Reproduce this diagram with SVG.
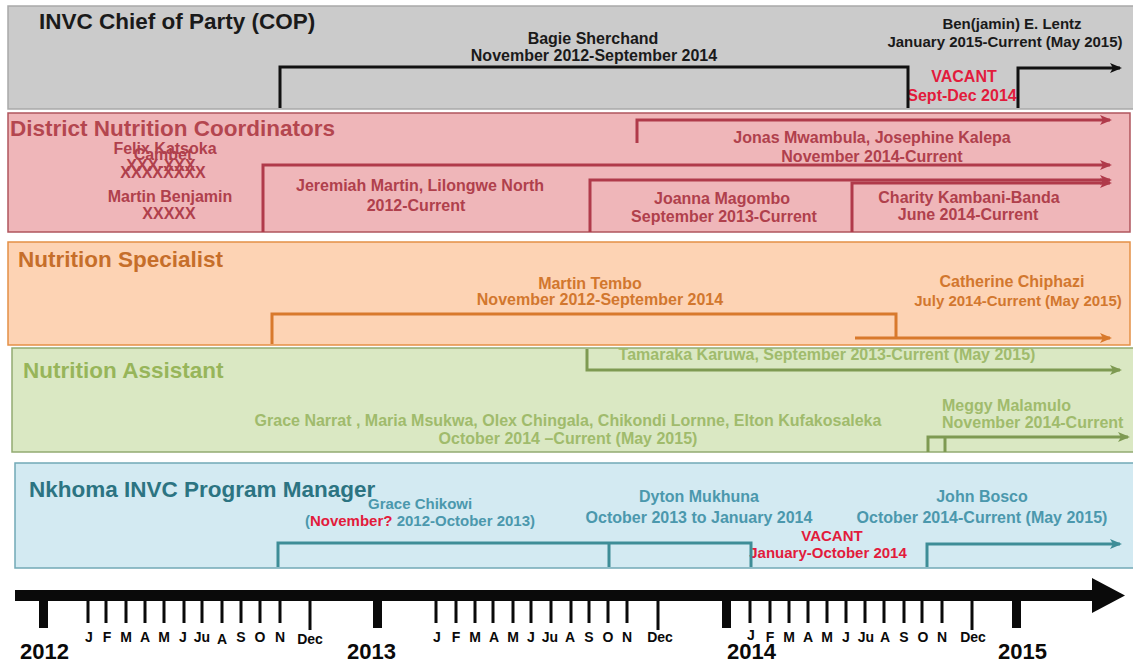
<svg xmlns="http://www.w3.org/2000/svg" width="1133" height="664" viewBox="0 0 1133 664">
  <defs>
    <style>
      text { font-family: "Liberation Sans", Arial, sans-serif; font-weight: bold; }
      .title { font-size: 22.5px; }
      .lbl { font-size: 16px; text-anchor: middle; }
      .sm { font-size: 15px; }
      .st { text-anchor: start; }
      .red { fill: #e21b3c; }
      .tl { font-family: Lato, "Liberation Sans", sans-serif; font-weight: 900; }
      .mon { font-size: 14px; text-anchor: middle; }
      .yr { font-size: 22px; }
      .ln { fill: none; stroke-width: 3; stroke-linejoin: miter; }
    </style>
    <marker id="ah-black" viewBox="0 0 12 10" refX="10" refY="5" markerWidth="12" markerHeight="10" markerUnits="userSpaceOnUse" orient="auto">
      <path d="M0,0 L12,5 L0,10 L3,5 z" fill="#111"/>
    </marker>
    <marker id="ah-red" viewBox="0 0 12 10" refX="10" refY="5" markerWidth="12" markerHeight="10" markerUnits="userSpaceOnUse" orient="auto">
      <path d="M0,0 L12,5 L0,10 L3,5 z" fill="#b03a4a"/>
    </marker>
    <marker id="ah-orange" viewBox="0 0 12 10" refX="10" refY="5" markerWidth="12" markerHeight="10" markerUnits="userSpaceOnUse" orient="auto">
      <path d="M0,0 L12,5 L0,10 L3,5 z" fill="#d8792c"/>
    </marker>
    <marker id="ah-green" viewBox="0 0 12 10" refX="10" refY="5" markerWidth="12" markerHeight="10" markerUnits="userSpaceOnUse" orient="auto">
      <path d="M0,0 L12,5 L0,10 L3,5 z" fill="#7e9a52"/>
    </marker>
    <marker id="ah-teal" viewBox="0 0 12 10" refX="10" refY="5" markerWidth="12" markerHeight="10" markerUnits="userSpaceOnUse" orient="auto">
      <path d="M0,0 L12,5 L0,10 L3,5 z" fill="#3e8d97"/>
    </marker>
  </defs>

  <rect width="1133" height="664" fill="#ffffff"/>

  <!-- Row: INVC Chief of Party -->
  <g id="cop">
    <rect x="8" y="6" width="1130" height="103" fill="#cbcbcb" stroke="#a9a9a9" stroke-width="1.5"/>
    <text class="title" x="39" y="29" font-size="23.5" fill="#1a1a1a">INVC Chief of Party (COP)</text>
    <text class="lbl" x="593" y="44" fill="#1a1a1a">Bagie Sherchand</text>
    <text class="lbl" x="594" y="61" fill="#1a1a1a">November 2012-September 2014</text>
    <text class="lbl sm" x="1012" y="29" fill="#1a1a1a">Ben(jamin) E. Lentz</text>
    <text class="lbl sm" x="1005" y="47" fill="#1a1a1a">January 2015-Current (May 2015)</text>
    <text class="lbl red" x="964" y="82">VACANT</text>
    <text class="lbl red" x="962" y="101">Sept-Dec 2014</text>
  </g>

  <!-- Row: District Nutrition Coordinators -->
  <g id="dnc">
    <rect x="8" y="113" width="1122" height="119" fill="#efb6b9" stroke="#b0555d" stroke-width="1.5"/>
    <text class="title" x="10" y="136" fill="#b4464f">District Nutrition Coordinators</text>
    <g fill="#b0404c">
      <text class="lbl" x="165" y="154">Felix Katsoka</text>
      <text class="lbl" x="163" y="160">Cambet</text>
      <text class="lbl" x="161" y="171">XXX-XXX</text>
      <text class="lbl" x="163" y="178">XXXXXXXX</text>
      <text class="lbl" x="170" y="202">Martin Benjamin</text>
      <text class="lbl" x="169" y="219">XXXXX</text>
      <text class="lbl" x="420" y="191">Jeremiah Martin, Lilongwe North</text>
      <text class="lbl" x="416" y="211">2012-Current</text>
      <text class="lbl" x="872" y="143">Jonas Mwambula, Josephine Kalepa</text>
      <text class="lbl" x="872" y="162">November 2014-Current</text>
      <text class="lbl" x="722" y="204">Joanna Magombo</text>
      <text class="lbl" x="724" y="222">September 2013-Current</text>
      <text class="lbl" x="969" y="203">Charity Kambani-Banda</text>
      <text class="lbl" x="968" y="220">June 2014-Current</text>
    </g>
  </g>

  <!-- Row: Nutrition Specialist -->
  <g id="specialist">
    <rect x="8" y="242" width="1122" height="103" fill="#fdd3b4" stroke="#e49046" stroke-width="1.5"/>
    <text class="title" x="18" y="267" fill="#c66e2a">Nutrition Specialist</text>
    <g fill="#d2772e">
      <text class="lbl" x="590" y="289">Martin Tembo</text>
      <text class="lbl" x="600" y="305">November  2012-September 2014</text>
      <text class="lbl" x="1012" y="287">Catherine Chiphazi</text>
      <text class="lbl sm" x="1018" y="306">July 2014-Current (May 2015)</text>
    </g>
  </g>

  <!-- Row: Nutrition Assistant -->
  <g id="assistant">
    <rect x="12" y="348" width="1125" height="104" fill="#dae8c3" stroke="#92ab72" stroke-width="1.5"/>
    <text class="title" x="23" y="378" fill="#97b55a">Nutrition Assistant</text>
    <g fill="#a0bb6c">
      <text class="lbl" x="827" y="360">Tamaraka Karuwa, September 2013-Current (May 2015)</text>
      <text class="lbl" x="568" y="426">Grace Narrat , Maria Msukwa, Olex Chingala, Chikondi Lornne, Elton Kufakosaleka</text>
      <text class="lbl" x="568" y="444">October 2014 –Current (May 2015)</text>
      <text class="lbl st" x="942" y="411">Meggy Malamulo</text>
      <text class="lbl st" x="942" y="428">November 2014-Current</text>
    </g>
  </g>

  <!-- Row: Nkhoma INVC Program Manager -->
  <g id="nkhoma">
    <rect x="15" y="463" width="1122" height="105" fill="#d3eaf2" stroke="#72a9b6" stroke-width="1.5"/>
    <text class="title" x="29" y="497" font-size="23" fill="#2c7482">Nkhoma INVC Program Manager</text>
    <g fill="#4b98ad">
      <text class="lbl sm st" x="368" y="509">Grace Chikowi</text>
      <text class="lbl sm" x="420" y="526">(<tspan class="red">November?</tspan> 2012-October 2013)</text>
      <text class="lbl" x="699" y="502">Dyton Mukhuna</text>
      <text class="lbl" x="699" y="523">October 2013 to January 2014</text>
      <text class="lbl" x="982" y="502">John Bosco</text>
      <text class="lbl" x="982" y="523">October 2014-Current (May 2015)</text>
    </g>
    <text class="lbl sm red" x="832" y="541">VACANT</text>
    <text class="lbl sm red" x="828" y="558">January-October 2014</text>
  </g>

  <!-- Tenure lines -->
  <g id="connectors">
    <path class="ln" stroke="#111" d="M280,108 V67 H908 V108"/>
    <path class="ln" stroke="#111" d="M1018,108 V68 H1120" marker-end="url(#ah-black)"/>

    <path class="ln" stroke="#b03a4a" d="M637,143 V120 H1110" marker-end="url(#ah-red)"/>
    <path class="ln" stroke="#b03a4a" d="M263,232 V165 H1110" marker-end="url(#ah-red)"/>
    <path class="ln" stroke="#b03a4a" d="M590,232 V180 H1110" marker-end="url(#ah-red)"/>
    <path class="ln" stroke="#b03a4a" d="M852,232 V183 H1110" marker-end="url(#ah-red)"/>

    <path class="ln" stroke="#d8792c" d="M272,344 V314 H896 V338"/>
    <path class="ln" stroke="#d8792c" d="M855,338 H1110" marker-end="url(#ah-orange)"/>

    <path class="ln" stroke="#7e9a52" d="M587,349 V370 H1120" marker-end="url(#ah-green)"/>
    <path class="ln" stroke="#7e9a52" d="M928,452 V437 H1128" marker-end="url(#ah-green)"/>
    <path class="ln" stroke="#7e9a52" d="M945,452 V437"/>

    <path class="ln" stroke="#3e8d97" stroke-width="2.5" d="M278,567 V543 H751 V567"/>
    <path class="ln" stroke="#3e8d97" stroke-width="2.5" d="M609,543 V567"/>
    <path class="ln" stroke="#3e8d97" stroke-width="2.5" d="M927,567 V544 H1120" marker-end="url(#ah-teal)"/>
  </g>

  <!-- Time axis -->
  <g id="timeline">
    <rect x="15" y="590" width="1082" height="11" fill="#0a0a0a"/>
    <polygon points="1092,578 1125,595.5 1092,613" fill="#0a0a0a"/>
    <g fill="#0a0a0a">
      <rect x="39" y="596" width="9" height="32"/>
      <rect x="373" y="596" width="9" height="32"/>
      <rect x="722" y="596" width="9" height="32"/>
      <rect x="1012" y="596" width="9" height="32"/>
    </g>
    <g stroke="#0a0a0a" stroke-width="3">
      <path d="M88,600 V623 M106,600 V623 M126,600 V623 M145,600 V623 M164,600 V623 M184,600 V623 M202,600 V623 M222,600 V623 M241,600 V623 M260,600 V623 M280,600 V623 M310,600 V630"/>
      <path d="M436,600 V623 M456,600 V623 M475,600 V623 M493,600 V623 M513,600 V623 M531,600 V623 M551,600 V623 M571,600 V623 M589,600 V623 M608,600 V623 M627,600 V623 M658,600 V630"/>
      <path d="M750,600 V623 M770,600 V623 M789,600 V623 M808,600 V623 M827,600 V623 M846,600 V623 M865,600 V623 M884,600 V623 M904,600 V623 M922,600 V623 M942,600 V623 M972,600 V630"/>
    </g>
    <g class="tl mon" fill="#0a0a0a">
      <text x="89" y="642">J</text><text x="107" y="642">F</text><text x="126" y="642">M</text><text x="145" y="642">A</text><text x="164" y="642">M</text><text x="183" y="642">J</text><text x="202" y="642">Ju</text><text x="222" y="644">A</text><text x="241" y="642">S</text><text x="260" y="642">O</text><text x="280" y="642">N</text><text x="310" y="644">Dec</text>
      <text x="437" y="642">J</text><text x="456" y="642">F</text><text x="475" y="642">M</text><text x="494" y="642">A</text><text x="513" y="642">M</text><text x="531" y="642">J</text><text x="550" y="642">Ju</text><text x="570" y="642">A</text><text x="589" y="642">S</text><text x="608" y="642">O</text><text x="627" y="642">N</text><text x="660" y="642">Dec</text>
      <text x="751" y="640">J</text><text x="770" y="642">F</text><text x="789" y="642">M</text><text x="808" y="642">A</text><text x="827" y="642">M</text><text x="846" y="642">J</text><text x="866" y="642">Ju</text><text x="885" y="642">A</text><text x="904" y="642">S</text><text x="923" y="642">O</text><text x="942" y="642">N</text><text x="973" y="642">Dec</text>
    </g>
    <g class="tl yr" fill="#0a0a0a">
      <text x="20" y="659">2012</text>
      <text x="347" y="659">2013</text>
      <text x="727" y="659">2014</text>
      <text x="998" y="659">2015</text>
    </g>
  </g>
</svg>
